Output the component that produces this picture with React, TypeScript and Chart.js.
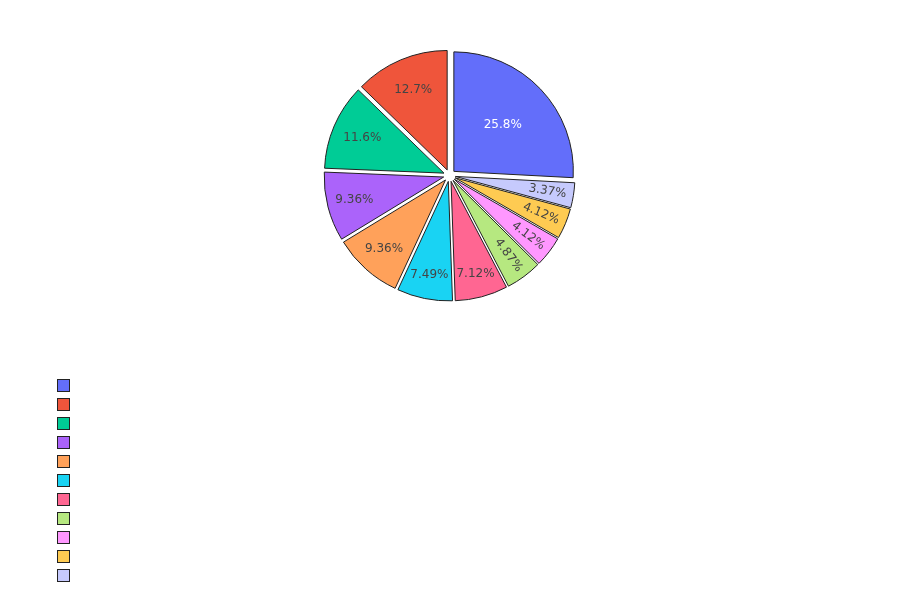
import { useEffect, useRef } from 'react';
import Chart from 'chart.js/auto';

// slices in legend order (largest first); the legend shows no label text
const categories = ['', '', '', '', '', '', '', '', '', '', ''];
const counts = [69, 34, 31, 25, 25, 20, 19, 13, 11, 11, 9];
const colors = [
  '#636efa', '#ef553b', '#00cc96', '#ab63fa', '#ffa15a', '#19d3f3',
  '#ff6692', '#b6e880', '#ff97ff', '#fecb52', '#c6cafd',
];

const PULL = 6;
const RADIUS = 119.5;

function textColor(hex: string) {
  const r = parseInt(hex.slice(1, 3), 16);
  const g = parseInt(hex.slice(3, 5), 16);
  const b = parseInt(hex.slice(5, 7), 16);
  return 0.299 * r + 0.587 * g + 0.114 * b < 128 ? '#ffffff' : '#444444';
}

export default function App() {
  const canvasRef = useRef<HTMLCanvasElement | null>(null);
  const chartRef = useRef<Chart | null>(null);

  useEffect(() => {
    document.body.style.margin = '0';
    if (!canvasRef.current) return;

    const total = counts.reduce((a, b) => a + b, 0);
    // chart.js draws clockwise; the reference runs the other way, so feed the
    // slices reversed and start the first one where the big slice ends
    const order = counts.map((_, i) => i).reverse();
    const rotation = (counts[0] / total) * 360;

    // draw the slices pulled out from the centre
    const pullPlugin = {
      id: 'pull',
      beforeDatasetsDraw(chart: any) {
        const ctx = chart.ctx;
        const meta = chart.getDatasetMeta(0);
        meta.data.forEach((arc: any) => {
          const mid = (arc.startAngle + arc.endAngle) / 2;
          ctx.save();
          ctx.translate(Math.cos(mid) * PULL, Math.sin(mid) * PULL);
          arc.draw(ctx);
          ctx.restore();
        });
        return false;
      },
      afterDraw(chart: any) {
        const ctx = chart.ctx;
        const meta = chart.getDatasetMeta(0);
        ctx.save();
        ctx.font = '12px "DejaVu Sans", Verdana, sans-serif';
        ctx.textAlign = 'center';
        ctx.textBaseline = 'middle';
        meta.data.forEach((arc: any, j: number) => {
          const i = order[j];
          const span = arc.endAngle - arc.startAngle;
          const mid = (arc.startAngle + arc.endAngle) / 2;
          const spanDeg = (span * 180) / Math.PI;
          const tangential = spanDeg < 20;
          const f = tangential ? 0.78 : 0.89 - 0.0035 * spanDeg;
          const d = PULL + f * arc.outerRadius;
          const x = arc.x + Math.cos(mid) * d;
          const y = arc.y + Math.sin(mid) * d;
          let rot = 0;
          if (tangential) {
            rot = mid;
            while (rot > Math.PI) rot -= 2 * Math.PI;
            while (rot < -Math.PI) rot += 2 * Math.PI;
            if (rot > Math.PI / 2) rot -= Math.PI;
            if (rot < -Math.PI / 2) rot += Math.PI;
          }
          const pct = ((counts[i] / total) * 100).toPrecision(3) + '%';
          ctx.save();
          ctx.translate(x, y);
          ctx.rotate(rot);
          ctx.fillStyle = textColor(colors[i]);
          ctx.fillText(pct, 0, 0);
          ctx.restore();
        });

        // legend column, bottom left
        counts.forEach((_, i) => {
          const bx = 57;
          const by = 379 + i * 19;
          ctx.fillStyle = colors[i];
          ctx.fillRect(bx, by, 12, 12);
          ctx.strokeStyle = '#222222';
          ctx.lineWidth = 1;
          ctx.strokeRect(bx + 0.5, by + 0.5, 12, 12);
          if (categories[i]) {
            ctx.fillStyle = '#444444';
            ctx.textAlign = 'left';
            ctx.fillText(categories[i], bx + 20, by + 6);
          }
        });
        ctx.restore();
      },
    };

    if (chartRef.current) chartRef.current.destroy();
    chartRef.current = new Chart(canvasRef.current, {
      type: 'pie',
      data: {
        labels: order.map(i => categories[i]),
        datasets: [{
          data: order.map(i => counts[i]),
          backgroundColor: order.map(i => colors[i]),
          borderColor: '#222222',
          borderWidth: 1,
        }],
      },
      options: {
        responsive: true,
        maintainAspectRatio: false,
        animation: false,
        events: [],
        rotation,
        radius: RADIUS,
        layout: { padding: { top: 0, bottom: 249, left: 0, right: 1 } },
        plugins: {
          legend: { display: false },
          tooltip: { enabled: false },
        },
      },
      plugins: [pullPlugin],
    });

    return () => {
      if (chartRef.current) {
        chartRef.current.destroy();
        chartRef.current = null;
      }
    };
  }, []);

  return (
    <div style={{ width: 900, height: 600, position: 'relative', background: '#fff' }}>
      <canvas ref={canvasRef} />
    </div>
  );
}
